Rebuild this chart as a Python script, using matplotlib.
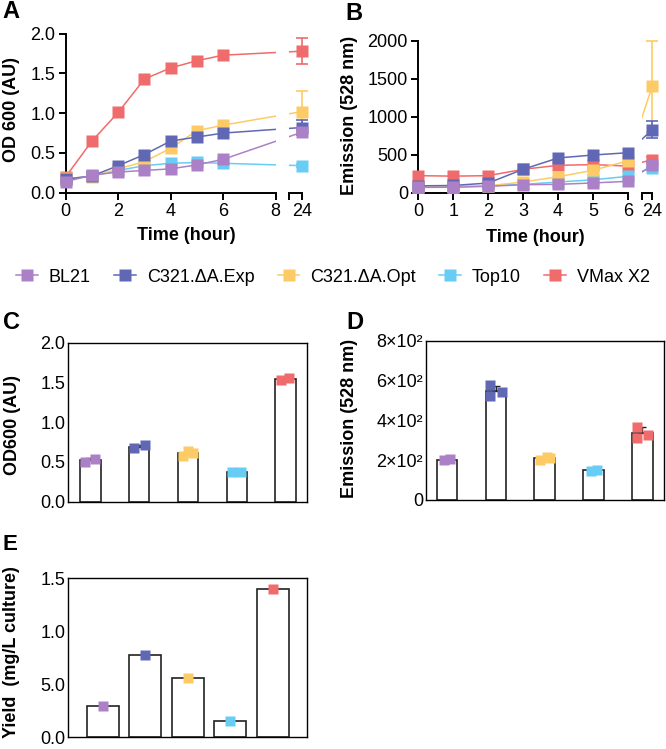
import matplotlib
matplotlib.use("Agg")
import matplotlib.pyplot as plt
from matplotlib.lines import Line2D
import numpy as np

plt.rcParams['font.family'] = ['Liberation Sans', 'DejaVu Sans']

# ---------------- data ----------------
strains = ['BL21', 'C321.ΔA.Exp', 'C321.ΔA.Opt', 'Top10', 'VMax X2']
colors = ['#AC80C6', '#6068B6', '#FDCB66', '#68CDF4', '#F06B6B']

time_a = [0, 1, 2, 3, 4, 5, 6, 24]
od_bl21 = [0.14, 0.22, 0.26, 0.28, 0.30, 0.35, 0.42, 0.76]
od_exp = [0.17, 0.21, 0.34, 0.48, 0.65, 0.70, 0.75, 0.82]
od_opt = [0.18, 0.20, 0.30, 0.39, 0.56, 0.78, 0.85, 1.02]
od_top10 = [0.17, 0.21, 0.28, 0.34, 0.37, 0.38, 0.37, 0.34]
od_vmax = [0.20, 0.65, 1.01, 1.43, 1.57, 1.66, 1.73, 1.78]
od_err_24 = [0.03, 0.10, 0.26, 0.02, 0.16]

time_b = [0, 1, 2, 3, 4, 5, 6, 24]
em_bl21 = [70, 72, 84, 105, 110, 128, 150, 360]
em_exp = [90, 95, 127, 308, 457, 496, 526, 830]
em_opt = [75, 75, 90, 141, 210, 295, 420, 1400]
em_top10 = [80, 80, 90, 110, 140, 170, 215, 330]
em_vmax = [224, 218, 224, 308, 360, 370, 350, 435]
em_err_24 = [30, 115, 600, 20, 30]

# panel C: OD600 replicates
c_bl21 = [0.50, 0.54]
c_exp = [0.67, 0.71]
c_opt = [0.57, 0.64, 0.61]
c_top10 = [0.37, 0.37]
c_vmax = [1.53, 1.56]

# panel D: emission replicates
d_bl21 = [200, 205]
d_exp = [576, 522, 542]
d_opt = [202, 216, 212]
d_top10 = [145, 152]
d_vmax = [368, 313, 326]

# panel E: yield
yield_vals = [0.30, 0.78, 0.56, 0.15, 1.40]
e_tick_labels = ['0.0', '5.0', '1.0', '1.5']

# ---------------- layout helpers ----------------
W, H = 666, 749
fig = plt.figure(figsize=(W / 100, H / 100), dpi=100)


def ax_px(left, top, right, bottom):
    return fig.add_axes([left / W, 1 - bottom / H, (right - left) / W, (bottom - top) / H])


def fx(x):
    return x / W


def fy(y):
    return 1 - y / H


FS = 13
SPW = 1.4
zorders = [10, 9, 8, 7, 6]  # BL21 on top, VMax at bottom
MS_LINE = 9.0
CAP = 4.5


def style_line_axes(ax):
    for s in ['top', 'right']:
        ax.spines[s].set_visible(False)
    for s in ['left', 'bottom']:
        ax.spines[s].set_linewidth(SPW)
    ax.tick_params(axis='both', direction='out', length=5, width=SPW,
                   labelsize=FS, pad=2.5)


def broken_time_panel(ax1, ax2, times, series, errs, map24, gap_left, ylim, yticks, xticks1):
    for i, ys in enumerate(series):
        xs = [v if v != 24 else map24 for v in times]
        for ax in (ax1, ax2):
            ax.plot(xs, ys, color=colors[i], lw=1.1, zorder=zorders[i])
        ax1.plot(xs[:-1], ys[:-1], ls='none', marker='s', ms=MS_LINE,
                 color=colors[i], mec='none', zorder=zorders[i] + 0.5, clip_on=False)
        ax2.errorbar([xs[-1]], [ys[-1]], yerr=[errs[i]], fmt='s', ms=MS_LINE,
                     color=colors[i], mec='none', ecolor=colors[i], elinewidth=1.2,
                     capsize=CAP, capthick=1.2, zorder=zorders[i] + 0.5, clip_on=False)
    ax1.set_xlim(0, xticks1[-1])
    ax2.set_xlim(gap_left, map24)
    for ax in (ax1, ax2):
        ax.set_ylim(*ylim)
        style_line_axes(ax)
    ax1.set_yticks(yticks)
    ax1.set_xticks(xticks1)
    ax2.spines['left'].set_visible(False)
    ax2.set_yticks([])
    ax2.set_xticks([gap_left, map24])
    ax2.set_xticklabels(['', '24'])
    ax2.patch.set_visible(False)
    ax1.patch.set_visible(False)


# ---------------- Panel A ----------------
axA1 = ax_px(65.7, 33.7, 275.7, 192.7)
axA2 = ax_px(288.7, 33.7, 301.7, 192.7)
broken_time_panel(axA1, axA2, time_a, [od_bl21, od_exp, od_opt, od_top10, od_vmax], od_err_24,
                  9.0, 8.5, (0, 2.0), [0.0, 0.5, 1.0, 1.5, 2.0], [0, 2, 4, 6, 8])
axA1.set_yticklabels(['0.0', '0.5', '1.0', '1.5', '2.0'])

# ---------------- Panel B ----------------
axB1 = ax_px(418.3, 40.7, 628.0, 192.7)
axB2 = ax_px(641.7, 40.7, 652.2, 192.7)
broken_time_panel(axB1, axB2, time_b, [em_bl21, em_exp, em_opt, em_top10, em_vmax], em_err_24,
                  6.7, 6.4, (0, 2000), [0, 500, 1000, 1500, 2000], [0, 1, 2, 3, 4, 5, 6])

# labels for A/B
fig.text(fx(12), fy(110), 'OD 600 (AU)', rotation=90, ha='center', va='center',
         fontsize=FS, fontweight='bold')
fig.text(fx(350), fy(115), 'Emission (528 nm)', rotation=90, ha='center', va='center',
         fontsize=FS, fontweight='bold')
fig.text(fx(186), fy(235), 'Time (hour)', ha='center', va='center', fontsize=FS, fontweight='bold')
fig.text(fx(535), fy(238), 'Time (hour)', ha='center', va='center', fontsize=FS, fontweight='bold')

# legend
handles = [Line2D([0], [0], color=c, lw=1.1, marker='s', ms=MS_LINE, mec='none') for c in colors]
fig.legend(handles, strains, ncol=5, loc='center', bbox_to_anchor=(fx(333), fy(277)),
           frameon=False, fontsize=FS, handlelength=1.2, handletextpad=0.6,
           columnspacing=1.3, borderaxespad=0, borderpad=0)


# ---------------- bar panels ----------------
def style_box(ax):
    for s in ax.spines.values():
        s.set_linewidth(1.0)
    ax.tick_params(axis='y', length=0, labelsize=FS, pad=2)
    ax.set_xticks([])


def bar_dot_panel(ax, groups, offsets, width, ylim, ms, show_err):
    x = np.arange(len(groups))
    means = [np.mean(g) for g in groups]
    ax.bar(x, means, width=width, color='white', edgecolor='#222222', lw=1.2, zorder=2)
    for i, g in enumerate(groups):
        if show_err and len(g) > 1:
            sd = np.std(g, ddof=1)
            ax.errorbar([x[i]], [means[i]], yerr=[[0], [sd]], fmt='none', ecolor='#222222',
                        elinewidth=1.0, capsize=3, capthick=1.0, zorder=3)
        ax.plot(x[i] + np.array(offsets[i][:len(g)]), g, ls='none', marker='s', ms=ms,
                color=colors[i], mec='none', zorder=4, clip_on=False)
    ax.set_ylim(*ylim)
    style_box(ax)


# Panel C
axC = ax_px(68.3, 342.7, 306.7, 501.7)
offs_c = [[-0.1, 0.09], [-0.1, 0.11], [-0.1, 0.0, 0.11], [-0.09, 0.09], [-0.09, 0.06]]
bar_dot_panel(axC, [c_bl21, c_exp, c_opt, c_top10, c_vmax], offs_c, 0.42, (0, 2.0), 7.3, True)
axC.set_xlim(-0.45, 4.43)
axC.set_yticks([0, 0.5, 1.0, 1.5, 2.0])
axC.set_yticklabels(['0.0', '0.5', '1.0', '1.5', '2.0'])
fig.text(fx(13), fy(425), 'OD600 (AU)', rotation=90, ha='center', va='center',
         fontsize=FS, fontweight='bold')

# Panel D
axD = ax_px(426.0, 340.7, 663.5, 500.0)
offs_d = [[-0.06, 0.06], [-0.12, -0.12, 0.12], [-0.1, 0.05, 0.1], [-0.06, 0.06], [-0.12, -0.12, 0.12]]
bar_dot_panel(axD, [d_bl21, d_exp, d_opt, d_top10, d_vmax], offs_d, 0.42, (0, 800), 7.7, True)
axD.set_xlim(-0.43, 4.43)
axD.set_yticks([0, 200, 400, 600, 800])
axD.set_yticklabels(['0', '2×10²', '4×10²', '6×10²', '8×10²'])
fig.text(fx(350), fy(418), 'Emission (528 nm)', rotation=90, ha='center', va='center',
         fontsize=FS, fontweight='bold')

# Panel E
axE = ax_px(68.3, 578.3, 306.7, 737.3)
xe = np.arange(len(yield_vals))
axE.bar(xe, yield_vals, width=0.76, color='white', edgecolor='#222222', lw=1.2, zorder=2)
for i, v in enumerate(yield_vals):
    axE.plot([xe[i]], [v], ls='none', marker='s', ms=7.2, color=colors[i], mec='none', zorder=4)
axE.set_xlim(-0.81, 4.8)
axE.set_ylim(0, 1.5)
axE.set_yticks([0, 0.5, 1.0, 1.5])
axE.set_yticklabels(e_tick_labels)
style_box(axE)
fig.text(fx(12), fy(652), 'Yield  (mg/L culture)', rotation=90, ha='center', va='center',
         fontsize=FS, fontweight='bold')

# panel letters
for lab, (px, py), fsz in zip('ABCDE', [(2, 12), (345, 13), (3, 322), (346, 322), (3, 545)],
                              [17, 17, 17, 17, 16]):
    fig.text(fx(px), fy(py), lab, ha='left', va='center', fontsize=fsz, fontweight='bold')

fig.savefig('out.png', dpi=100)
